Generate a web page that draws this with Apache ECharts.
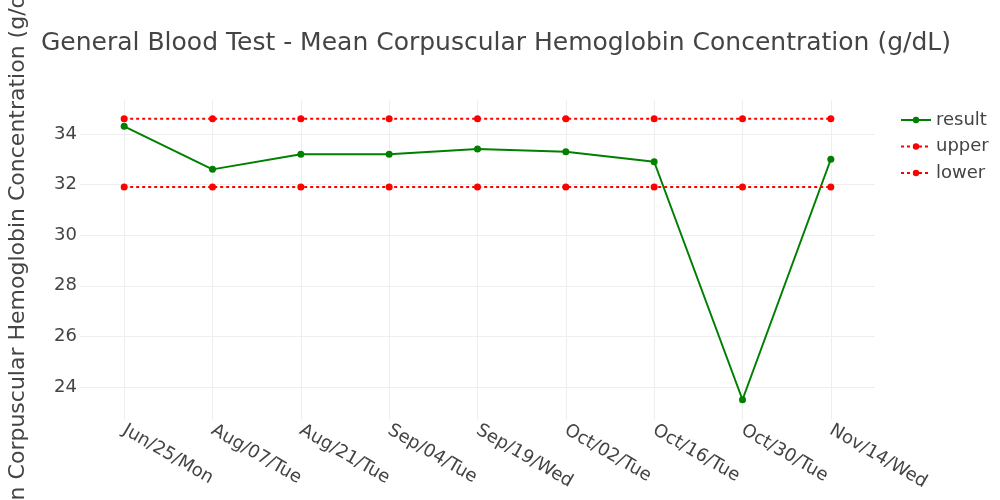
<!DOCTYPE html>
<html>
<head>
<meta charset="utf-8">
<script src="https://cdn.jsdelivr.net/npm/echarts@6/dist/echarts.min.js"></script>
<style>html,body{margin:0;padding:0;background:#fff}#c{width:1000px;height:500px}</style>
</head>
<body>
<div id="c"></div>
<script>
const categories = ['Jun/25/Mon','Aug/07/Tue','Aug/21/Tue','Sep/04/Tue','Sep/19/Wed','Oct/02/Tue','Oct/16/Tue','Oct/30/Tue','Nov/14/Wed'];
const resultValues = [34.3, 32.6, 33.2, 33.2, 33.4, 33.3, 32.9, 23.5, 33.0];
const upperValues = [34.6, 34.6, 34.6, 34.6, 34.6, 34.6, 34.6, 34.6, 34.6];
const lowerValues = [31.9, 31.9, 31.9, 31.9, 31.9, 31.9, 31.9, 31.9, 31.9];
const yTicks = [24, 26, 28, 30, 32, 34];

const font = '"DejaVu Sans", Verdana, sans-serif';
const textColor = '#444';
const gridColor = '#eeeeee';

const chart = echarts.init(document.getElementById('c'));
const gridLines = {
  silent: true,
  symbol: 'none',
  z: 1,
  label: { show: false },
  lineStyle: { color: gridColor, type: 'solid', width: 1 },
  data: categories.map(c => ({ xAxis: c })).concat(yTicks.map(v => ({ yAxis: v })))
};
chart.setOption({
  animation: false,
  title: {
    text: 'General Blood Test - Mean Corpuscular Hemoglobin Concentration (g/dL)',
    left: 36, top: 26,
    textStyle: { fontFamily: font, fontSize: 25, fontWeight: 'normal', color: textColor }
  },
  legend: {
    orient: 'vertical', left: 895, top: 106, itemGap: 8.5,
    itemWidth: 30, itemHeight: 8,
    textStyle: { fontFamily: font, fontSize: 18, color: textColor },
    data: ['result', 'upper', 'lower']
  },
  grid: { left: 80, right: 125, top: 100, bottom: 80, outerBoundsMode: 'none' },
  xAxis: {
    type: 'category', data: categories, boundaryGap: true,
    axisLine: { show: false }, axisTick: { show: false },
    splitLine: { show: false },
    axisLabel: { rotate: -30, margin: 9, fontFamily: font, fontSize: 18, color: textColor, interval: 0 }
  },
  yAxis: {
    type: 'value', min: 22.7, max: 35.34, splitNumber: 6,
    name: 'Mean Corpuscular Hemoglobin Concentration (g/dL)',
    nameLocation: 'middle', nameGap: 51,
    nameTextStyle: { fontFamily: font, fontSize: 22, color: textColor },
    axisLine: { show: false }, axisTick: { show: false },
    splitLine: { show: false },
    axisLabel: {
      showMinLabel: false, showMaxLabel: false, margin: 3,
      fontFamily: font, fontSize: 18, color: textColor,
      formatter: v => (yTicks.indexOf(v) >= 0 ? String(v) : '')
    }
  },
  series: [
    {
      name: 'result', type: 'line', data: resultValues,
      color: '#008000', symbol: 'circle', symbolSize: 7,
      lineStyle: { color: '#008000', width: 2 },
      itemStyle: { color: '#008000' },
      markLine: gridLines
    },
    {
      name: 'upper', type: 'line', data: upperValues,
      color: '#ff0000', symbol: 'circle', symbolSize: 7,
      lineStyle: { color: '#ff0000', width: 2, type: [3, 3] },
      itemStyle: { color: '#ff0000' }
    },
    {
      name: 'lower', type: 'line', data: lowerValues,
      color: '#ff0000', symbol: 'circle', symbolSize: 7,
      lineStyle: { color: '#ff0000', width: 2, type: [3, 3] },
      itemStyle: { color: '#ff0000' }
    }
  ]
});
</script>
</body>
</html>
